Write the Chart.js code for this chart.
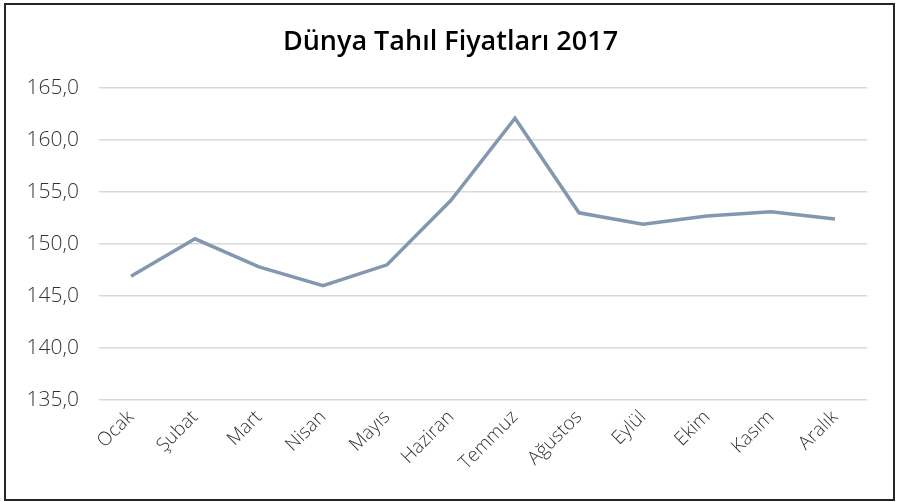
<!DOCTYPE html>
<html>
<head>
<meta charset="utf-8">
<script src="https://cdn.jsdelivr.net/npm/chart.js@4.4.0/dist/chart.umd.min.js"></script>
<style>
  html, body { margin: 0; padding: 0; background: #fff; }
  #wrap { position: relative; width: 897px; height: 502px; }
  canvas { position: absolute; left: 0; top: 0; }
  #frame { position: absolute; left: 4px; top: 3px; width: 891px; height: 498px; box-sizing: border-box; border: 2px solid #262626; pointer-events: none; }
</style>
</head>
<body>
<div id="wrap">
  <canvas id="c" width="897" height="502"></canvas>
  <div id="frame"></div>
</div>
<script>
const title = "Dünya Tahıl Fiyatları 2017";
const months = ["Ocak", "Şubat", "Mart", "Nisan", "Mayıs", "Haziran", "Temmuz", "Ağustos", "Eylül", "Ekim", "Kasım", "Aralık"];
const prices = [146.9, 150.5, 147.8, 146.0, 148.0, 154.2, 162.1, 153.0, 151.9, 152.7, 153.1, 152.4];
const yTickValues = [135, 140, 145, 150, 155, 160, 165];

const fmt = v => v.toFixed(1).replace('.', ',');

const centeredTitle = {
  id: 'centeredTitle',
  afterDraw(chart) {
    const ctx = chart.ctx;
    ctx.save();
    ctx.font = "600 27px 'Open Sans'";
    ctx.fillStyle = '#000';
    ctx.textAlign = 'center';
    ctx.textBaseline = 'middle';
    ctx.fillText(title, chart.width / 2 + 2, 42);
    ctx.restore();
  }
};

new Chart(document.getElementById('c'), {
  type: 'line',
  data: {
    labels: months,
    datasets: [{
      data: prices,
      borderColor: '#8497b0',
      borderWidth: 3.5,
      pointRadius: 0,
      tension: 0,
      fill: false
    }]
  },
  plugins: [centeredTitle],
  options: {
    responsive: false,
    animation: false,
    devicePixelRatio: 1,
    layout: { padding: { left: 5, right: 30, top: 88, bottom: 0 } },
    plugins: {
      legend: { display: false },
      tooltip: { enabled: false },
      title: { display: false }
    },
    scales: {
      x: {
        offset: true,
        grid: { display: false, drawTicks: false },
        border: { display: false },
        ticks: {
          color: '#333',
          font: { family: "'Open Sans'", size: 19, weight: '300' },
          minRotation: 45,
          maxRotation: 45,
          padding: 6,
          autoSkip: false
        },
        afterFit: s => { s.height = 102; }
      },
      y: {
        min: 135,
        max: 165,
        afterBuildTicks: s => { s.ticks = yTickValues.map(v => ({ value: v })); },
        grid: { color: '#d9d9d9', lineWidth: 1.5, drawTicks: false },
        border: { display: false },
        ticks: {
          color: '#333',
          font: { family: "'Open Sans'", size: 21, weight: '300' },
          padding: 20,
          callback: v => fmt(v)
        },
        afterFit: s => { s.width = 94; }
      }
    }
  }
});
</script>
</body>
</html>
